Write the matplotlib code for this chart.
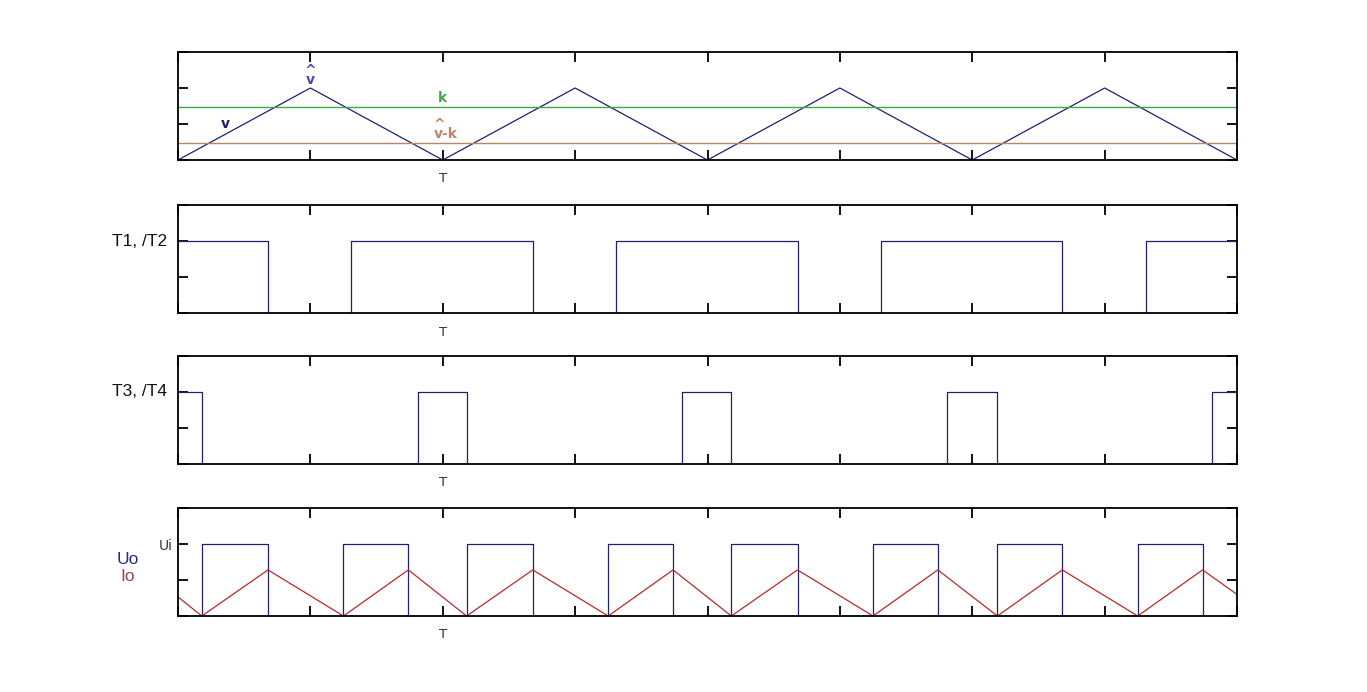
import matplotlib
matplotlib.use('Agg')
from matplotlib import pyplot as plt

# time axis: 8 half periods, T at x=2
x_ticks = [0, 1, 2, 3, 4, 5, 6, 7, 8]
x_labels = ['', '', 'T', '', '', '', '', '', '']

# carrier triangle v and comparison levels
tri_x = [0, 1, 2, 3, 4, 5, 6, 7, 8]
tri_y = [0, 2, 0, 2, 0, 2, 0, 2, 0]
k_level = 1.48
vk_level = 0.47

# T1, /T2 switching
t12_t = [0, 0.68, 1.31, 2.68, 3.31, 4.68, 5.31, 6.68, 7.31, 8]
t12_v = [2, 0, 2, 0, 2, 0, 2, 0, 2, 2]

# T3, /T4 switching
t34_t = [0, 0.18, 1.81, 2.18, 3.81, 4.18, 5.81, 6.19, 7.81, 8]
t34_v = [2, 0, 2, 0, 2, 0, 2, 0, 2, 2]

# output voltage Uo
uo_t = [0, 0.18, 0.68, 1.25, 1.74, 2.18, 2.68, 3.25, 3.74, 4.18, 4.68,
        5.25, 5.74, 6.19, 6.68, 7.25, 7.74, 8]
uo_v = [0, 2, 0, 2, 0, 2, 0, 2, 0, 2, 0, 2, 0, 2, 0, 2, 0, 0]

# output current Io
io_t = [0, 0.18, 0.68, 1.25, 1.74, 2.18, 2.68, 3.25, 3.74, 4.18, 4.68,
        5.25, 5.74, 6.19, 6.68, 7.25, 7.74, 8]
io_v = [0.53, 0, 1.28, 0, 1.28, 0, 1.28, 0, 1.28, 0, 1.28, 0, 1.28, 0,
        1.28, 0, 1.28, 0.6]

navy = '#20206e'
green = '#3fa64a'
brown = '#b8876a'
red = '#b82a2a'
lab_font = 'Liberation Sans'

W, H = 1367, 692
fig = plt.figure(figsize=(W / 100, H / 100), dpi=100)

left = 178 / W
width = (1237 - 178) / W
tops = [52, 205, 356, 508]
axes = []
for top in tops:
    ax = fig.add_axes([left, 1 - (top + 108) / H, width, 108 / H])
    ax.set_xlim(0, 8)
    ax.set_ylim(0, 3)
    ax.set_xticks(x_ticks)
    ax.set_xticklabels(x_labels, fontsize=9.5, color='#333333')
    ax.set_yticks([0, 1, 2, 3])
    ax.set_yticklabels(['', '', '', ''])
    ax.tick_params(direction='in', length=7, width=1.3, top=True, right=True)
    ax.tick_params(axis='x', pad=9)
    for s in ax.spines.values():
        s.set_linewidth(1.3)
    axes.append(ax)

# panel 1: triangle carrier
ax = axes[0]
ax.plot(tri_x, tri_y, color=navy, lw=0.9)
ax.axhline(k_level, color=green, lw=1.0)
ax.axhline(vk_level, color=brown, lw=1.0)
ax.text(0.36, 1.0, 'v', color=navy, fontsize=10, fontweight='bold', ha='center', va='center')
ax.text(1.0, 2.35, '^\nv', color='#4a4aa8', fontsize=10, fontweight='bold',
        ha='center', va='center', linespacing=0.6)
ax.text(2.0, 1.72, 'k', color=green, fontsize=10, fontweight='bold', ha='center', va='center')
ax.text(1.93, 0.85, '^\nv-k', color=brown, fontsize=10, fontweight='bold',
        ha='left', va='center', linespacing=0.6, multialignment='left')

# panel 2
ax = axes[1]
ax.plot(t12_t, t12_v, color=navy, lw=0.9, drawstyle='steps-post')
ax.text(-0.08, 2, 'T1, /T2', fontsize=12.5, family=lab_font, ha='right', va='center', color='#111111')

# panel 3
ax = axes[2]
ax.plot(t34_t, t34_v, color=navy, lw=0.9, drawstyle='steps-post')
ax.text(-0.08, 2, 'T3, /T4', fontsize=12.5, family=lab_font, ha='right', va='center', color='#111111')

# panel 4
ax = axes[3]
ax.plot(uo_t, uo_v, color=navy, lw=0.9, drawstyle='steps-post')
ax.plot(io_t, io_v, color=red, lw=0.9)
ax.set_yticklabels(['', '', 'Ui', ''], fontsize=10, color='#2e3a2e')
ax.text(-0.38, 1.58, 'Uo', fontsize=12.5, family=lab_font, ha='center', va='center', color='#2a2a80')
ax.text(-0.38, 1.1, 'Io', fontsize=12.5, family=lab_font, ha='center', va='center', color='#8a4a4a')

fig.savefig('out.png', dpi=100)
